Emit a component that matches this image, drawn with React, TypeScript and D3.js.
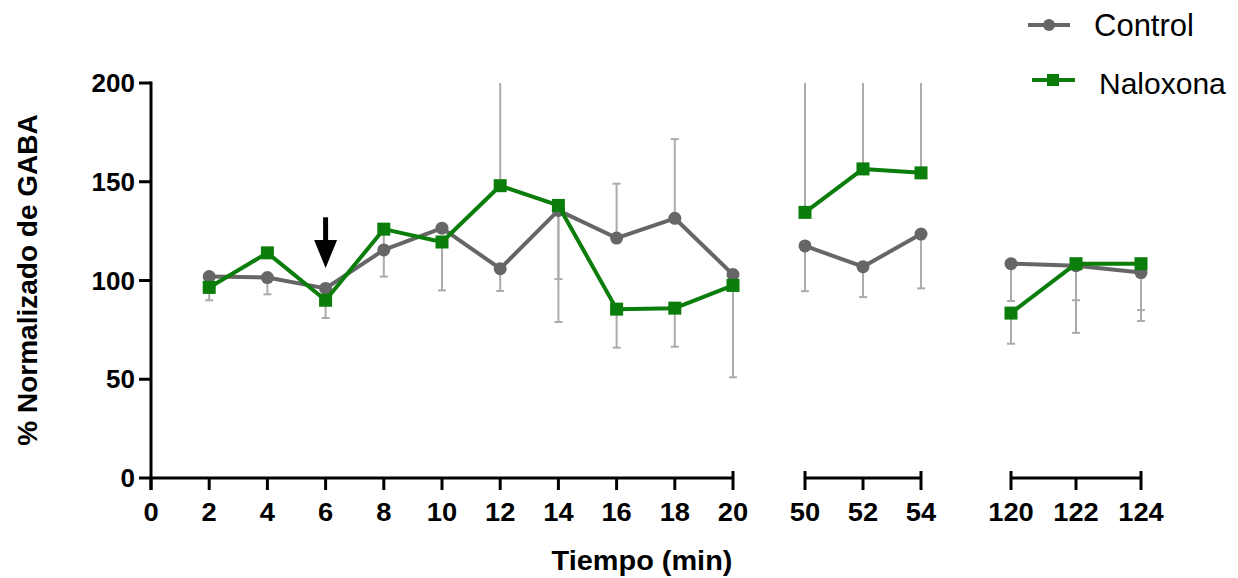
import * as d3 from "d3";

const W = 1238;
const H = 578;

// sampling times (min) and the three broken x-axis segments
const times = [2, 4, 6, 8, 10, 12, 14, 16, 18, 20, 50, 52, 54, 120, 122, 124];
const segments = [
  { domain: [0, 20], range: [151, 733], ticks: [0, 2, 4, 6, 8, 10, 12, 14, 16, 18, 20] },
  { domain: [50, 54], range: [805, 921], ticks: [50, 52, 54] },
  { domain: [120, 124], range: [1011, 1141], ticks: [120, 122, 124] },
];
const yTicks = [0, 50, 100, 150, 200];

// series means
const control = [102, 101.5, 96, 115.5, 126.5, 106, 135.5, 121.5, 131.5, 103, 117.5, 107, 123.5, 108.5, 107.5, 104];
const naloxona = [96.5, 114, 90, 126, 119.5, 148, 138, 85.5, 86, 97.5, 134.5, 156.5, 154.5, 83.5, 108.5, 108.5];

// error bar ends (one-sided), null = none drawn
const controlErrLow = [null, 93, null, null, null, 94.7, 100.7, null, null, null, 94.6, 91.6, 96, 89.6, 90, 85];
const controlErrHigh = [null, null, null, null, null, null, null, 149, 171.6, null, null, null, null, null, null, null];
const naloxErrLow = [90, null, 81, 102, 95, null, 79, 66, 66.5, 51, null, null, null, 68, 73.5, 79.5];
const naloxErrHigh = [null, null, null, null, null, 215, null, null, null, null, 215, 215, 215, null, null, null];

// arrow marking drug application (values in y units)
const arrowAt = { time: 6, from: 132, headTop: 120.5, to: 106.3 };

const GRAY = "#666666";
const GREEN = "#0b7d0b";
const ERR = "#ababab";
const FONT = "'Liberation Sans', Arial, sans-serif";

const y = d3.scaleLinear().domain([0, 200]).range([478, 83]);
const scales = segments.map((s) => d3.scaleLinear().domain(s.domain).range(s.range));

function segOf(t: number) {
  return segments.findIndex((s) => t >= s.domain[0] && t <= s.domain[1]);
}
function xOf(t: number) {
  return scales[segOf(t)](t);
}

function SText(props: {
  x: number;
  y: number;
  size: number;
  anchor?: string;
  weight?: string;
  sx?: number;
  rotate?: number;
  children: any;
}) {
  const { x, y: yy, size, anchor = "start", weight = "bold", sx = 1, rotate = 0, children } = props;
  return (
    <text
      transform={`translate(${x},${yy}) scale(${sx},1)${rotate ? ` rotate(${rotate})` : ""}`}
      fontSize={size}
      fontWeight={weight}
      fontFamily={FONT}
      textAnchor={anchor}
      fill="#000"
    >
      {children}
    </text>
  );
}

function ErrorBars({ vals, lo, hi }: { vals: number[]; lo: (number | null)[]; hi: (number | null)[] }) {
  const out: any[] = [];
  times.forEach((t, i) => {
    const cx = xOf(t);
    [lo[i], hi[i]].forEach((end, k) => {
      if (end == null) return;
      const clipped = end > 200;
      const ye = y(Math.min(end, 200));
      out.push(
        <g key={`${i}-${k}`}>
          <line x1={cx} x2={cx} y1={y(vals[i])} y2={ye} stroke={ERR} strokeWidth={2} />
          {!clipped && <line x1={cx - 4} x2={cx + 4} y1={ye} y2={ye} stroke={ERR} strokeWidth={2} />}
        </g>
      );
    });
  });
  return <g>{out}</g>;
}

function Series({ vals, color, marker }: { vals: number[]; color: string; marker: "circle" | "square" }) {
  // one path per axis segment so the line breaks across the gaps
  const paths = segments.map((_, si) => {
    const idx = times.map((_t, i) => i).filter((i) => segOf(times[i]) === si);
    const l = d3
      .line<number>()
      .x((i) => xOf(times[i]))
      .y((i) => y(vals[i]));
    return <path key={si} d={l(idx) ?? ""} fill="none" stroke={color} strokeWidth={4} strokeLinejoin="round" />;
  });
  return (
    <g>
      {paths}
      {vals.map((v, i) =>
        marker === "circle" ? (
          <circle key={i} cx={xOf(times[i])} cy={y(v)} r={6.5} fill={color} />
        ) : (
          <rect key={i} x={xOf(times[i]) - 6.5} y={y(v) - 6.5} width={13} height={13} fill={color} />
        )
      )}
    </g>
  );
}

export default function App() {
  const ax = arrowAt;
  const axX = xOf(ax.time);
  return (
    <svg width={W} height={H} style={{ position: "absolute", left: 0, top: 0, background: "#fff" }}>
      {/* y axis */}
      <line x1={151} x2={151} y1={y(200) - 1.5} y2={490} stroke="#000" strokeWidth={3} />
      {yTicks.map((t) => (
        <g key={t}>
          <line x1={139} x2={151} y1={y(t)} y2={y(t)} stroke="#000" strokeWidth={3} />
          <SText x={135} y={y(t) + 9} size={26} anchor="end">
            {t}
          </SText>
        </g>
      ))}
      {/* broken x axis */}
      {segments.map((s, si) => (
        <g key={si}>
          <line x1={s.range[0]} x2={s.range[1]} y1={y(0)} y2={y(0)} stroke="#000" strokeWidth={3} />
          {s.ticks.map((t, ti) => {
            const end = si > 0 ? ti === 0 || ti === s.ticks.length - 1 : ti === s.ticks.length - 1;
            return (
              <g key={t}>
                <line
                  x1={scales[si](t)}
                  x2={scales[si](t)}
                  y1={end ? y(0) - 7 : y(0)}
                  y2={490}
                  stroke="#000"
                  strokeWidth={3}
                />
                <SText x={scales[si](t)} y={521} size={26} anchor="middle" sx={1.05}>
                  {t}
                </SText>
              </g>
            );
          })}
        </g>
      ))}
      <SText x={642} y={570} size={27} anchor="middle" sx={1.07}>
        Tiempo (min)
      </SText>
      <SText x={37} y={280} size={28} anchor="middle" rotate={-90}>
        % Normalizado de GABA
      </SText>

      <ErrorBars vals={control} lo={controlErrLow} hi={controlErrHigh} />
      <ErrorBars vals={naloxona} lo={naloxErrLow} hi={naloxErrHigh} />
      <Series vals={control} color={GRAY} marker="circle" />
      <Series vals={naloxona} color={GREEN} marker="square" />

      {/* arrow */}
      <line x1={axX} x2={axX} y1={y(ax.from)} y2={y(ax.headTop) + 1} stroke="#000" strokeWidth={5} />
      <path
        d={`M${axX - 11.5},${y(ax.headTop)} L${axX + 11.5},${y(ax.headTop)} L${axX},${y(ax.to)} Z`}
        fill="#000"
      />

      {/* legend */}
      <line x1={1028} x2={1070} y1={25} y2={25} stroke={GRAY} strokeWidth={4} />
      <circle cx={1049} cy={25} r={6} fill={GRAY} />
      <SText x={1094} y={36} size={31} weight="normal">
        Control
      </SText>
      <line x1={1032} x2={1075} y1={80} y2={80} stroke={GREEN} strokeWidth={4} />
      <rect x={1047} y={74} width={12} height={12} fill={GREEN} />
      <SText x={1099} y={94} size={30} weight="normal">
        Naloxona
      </SText>
    </svg>
  );
}
